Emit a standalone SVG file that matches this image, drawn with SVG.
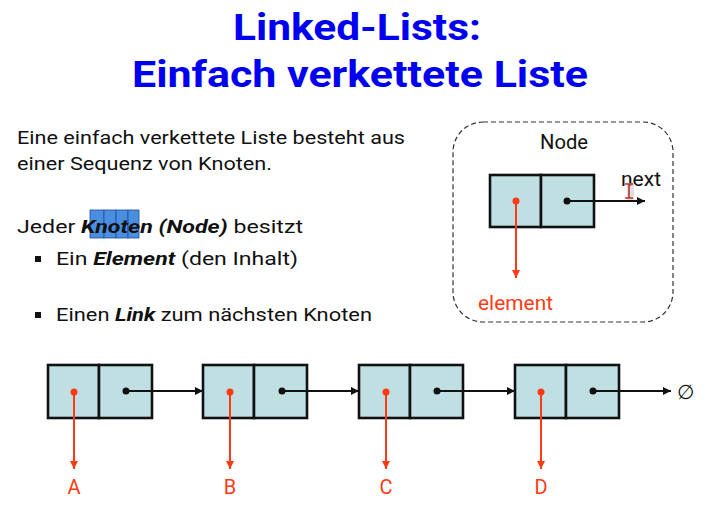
<svg xmlns="http://www.w3.org/2000/svg" width="712" height="512" viewBox="0 0 712 512">
  <style>
    .title { font-family: Roboto, "Liberation Sans", sans-serif; font-weight: bold; font-size: 37px; fill: #0000f0; }
    .body { font-family: Roboto, "Liberation Sans", sans-serif; font-size: 18.7px; fill: #111; }
    .bi { font-weight: bold; font-style: italic; }
    .lbl { font-family: Roboto, "Liberation Sans", sans-serif; font-size: 20px; fill: #111; }
    .red { fill: #ff3a14; }
    .cell { fill: #bfdfe3; stroke: #111; stroke-width: 2.6; }
    .link { stroke: #111; stroke-width: 2; fill: none; marker-end: url(#arrowBlack); }
    .ref { stroke: #ff3a14; stroke-width: 2; fill: none; marker-end: url(#arrowRed); }
  </style>
  <defs>
    <marker id="arrowBlack" viewBox="0 0 10 10" refX="10" refY="5" markerWidth="9" markerHeight="8" markerUnits="userSpaceOnUse" orient="auto">
      <path d="M0,0 L10,5 L0,10 z" fill="#111"/>
    </marker>
    <marker id="arrowRed" viewBox="0 0 10 10" refX="10" refY="5" markerWidth="9" markerHeight="8" markerUnits="userSpaceOnUse" orient="auto">
      <path d="M0,0 L10,5 L0,10 z" fill="#ff3a14"/>
    </marker>
    <g id="listNode">
      <rect class="cell" x="0" y="0" width="51" height="53"/>
      <rect class="cell" x="51" y="0" width="53" height="53"/>
    </g>
  </defs>

  <rect width="712" height="512" fill="#fff"/>

  <!-- heading -->
  <text class="title" x="233" y="40" textLength="248" lengthAdjust="spacingAndGlyphs">Linked-Lists:</text>
  <text class="title" x="132" y="87" textLength="456" lengthAdjust="spacingAndGlyphs">Einfach verkettete Liste</text>

  <!-- explanation text -->
  <g id="text">
    <!-- selection highlight over "note" -->
    <g fill="#4a8ee0" stroke="#1f4fa0" stroke-width="0.8">
      <rect x="90" y="210" width="14" height="28"/>
      <rect x="104" y="210" width="12" height="28"/>
      <rect x="116" y="210" width="12" height="28"/>
      <rect x="128" y="210" width="11" height="28"/>
    </g>
    <text class="body" x="17" y="144" textLength="388" lengthAdjust="spacingAndGlyphs">Eine einfach verkettete Liste besteht aus</text>
    <text class="body" x="17" y="170" textLength="255" lengthAdjust="spacingAndGlyphs">einer Sequenz von Knoten.</text>
    <text class="body" x="17" y="233" textLength="286" lengthAdjust="spacingAndGlyphs">Jeder <tspan class="bi">Knoten (Node)</tspan> besitzt</text>
    <rect x="35" y="256" width="6" height="6" fill="#111"/>
    <text class="body" x="56" y="265" textLength="242" lengthAdjust="spacingAndGlyphs">Ein <tspan class="bi">Element</tspan> (den Inhalt)</text>
    <rect x="35" y="312" width="6" height="6" fill="#111"/>
    <text class="body" x="56" y="321" textLength="316" lengthAdjust="spacingAndGlyphs">Einen <tspan class="bi">Link</tspan> zum nächsten Knoten</text>
  </g>

  <!-- single node legend -->
  <g id="legend">
    <rect x="453" y="122" width="220" height="200" rx="30" ry="30" fill="none" stroke="#333" stroke-width="1.2" stroke-dasharray="5,3"/>
    <text class="lbl" x="540" y="149" textLength="48" lengthAdjust="spacingAndGlyphs">Node</text>
    <rect class="cell" x="490" y="175" width="51" height="52"/>
    <rect class="cell" x="541" y="175" width="53" height="52"/>
    <line class="link" x1="567" y1="201" x2="645" y2="201"/>
    <circle cx="567" cy="201" r="3.5" fill="#111"/>
    <line class="ref" x1="516" y1="201" x2="516" y2="278"/>
    <circle cx="516" cy="201" r="3.5" fill="#ff3a14"/>
    <text class="lbl" x="621" y="186" textLength="40" lengthAdjust="spacingAndGlyphs">next</text>
    <text class="lbl red" x="478" y="310" textLength="75" lengthAdjust="spacingAndGlyphs">element</text>
    <!-- text cursor -->
    <rect x="627" y="183" width="7" height="17" fill="#ccc" fill-opacity="0.6"/>
    <path d="M625,184 H633 M629,184 V198 M625,198 H633" stroke="#c03030" stroke-width="1.6" fill="none"/>
  </g>

  <!-- list nodes -->
  <g id="nodeA"><use href="#listNode" x="48" y="365"/><text class="lbl red" x="74" y="494" text-anchor="middle">A</text></g>
  <g id="nodeB"><use href="#listNode" x="203" y="365"/><text class="lbl red" x="230" y="494" text-anchor="middle">B</text></g>
  <g id="nodeC"><use href="#listNode" x="359" y="365"/><text class="lbl red" x="386" y="494" text-anchor="middle">C</text></g>
  <g id="nodeD"><use href="#listNode" x="515" y="365"/><text class="lbl red" x="541" y="494" text-anchor="middle">D</text></g>
  <g id="null"><text class="lbl" x="685" y="399" text-anchor="middle" font-size="22">∅</text></g>

  <!-- connectors -->
  <g id="connectors">
    <line class="link" x1="126" y1="391" x2="203" y2="391"/>
    <line class="link" x1="282" y1="391" x2="359" y2="391"/>
    <line class="link" x1="437" y1="391" x2="515" y2="391"/>
    <line class="link" x1="593" y1="391" x2="671" y2="391"/>
    <g fill="#111">
      <circle cx="126" cy="391" r="3.5"/>
      <circle cx="282" cy="391" r="3.5"/>
      <circle cx="437" cy="391" r="3.5"/>
      <circle cx="593" cy="391" r="3.5"/>
    </g>
    <line class="ref" x1="74" y1="392" x2="74" y2="469"/>
    <line class="ref" x1="230" y1="392" x2="230" y2="469"/>
    <line class="ref" x1="386" y1="392" x2="386" y2="469"/>
    <line class="ref" x1="541" y1="392" x2="541" y2="469"/>
    <g fill="#ff3a14">
      <circle cx="74" cy="392" r="3.5"/>
      <circle cx="230" cy="392" r="3.5"/>
      <circle cx="386" cy="392" r="3.5"/>
      <circle cx="541" cy="392" r="3.5"/>
    </g>
  </g>
</svg>
